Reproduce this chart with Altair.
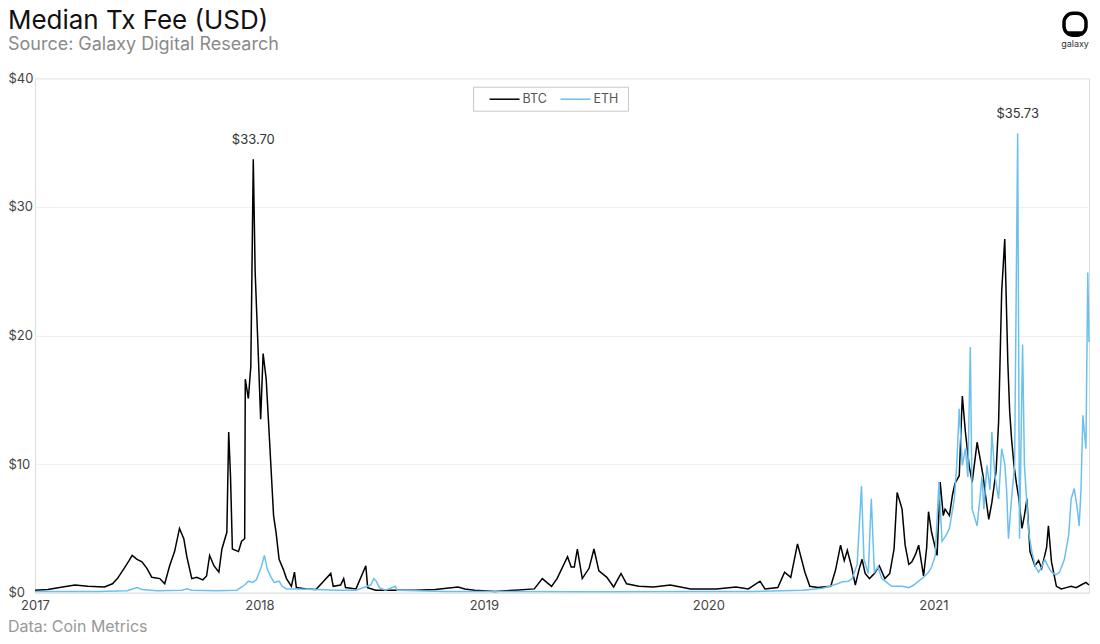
import altair as alt
import pandas as pd

# ---------------- data ----------------
btc_dates = [
    "2017-01-01", "2017-01-22", "2017-02-15", "2017-03-07", "2017-03-28", "2017-04-24", "2017-05-07",
    "2017-05-15", "2017-05-26", "2017-06-03", "2017-06-08", "2017-06-16", "2017-06-24", "2017-07-02",
    "2017-07-10", "2017-07-23", "2017-07-31", "2017-08-08", "2017-08-16", "2017-08-24", "2017-08-31",
    "2017-09-05", "2017-09-13", "2017-09-21", "2017-10-01", "2017-10-07", "2017-10-12", "2017-10-19",
    "2017-10-27", "2017-11-01", "2017-11-09", "2017-11-12", "2017-11-15", "2017-11-18", "2017-11-28",
    "2017-12-03", "2017-12-08", "2017-12-09", "2017-12-14", "2017-12-18", "2017-12-22", "2017-12-25",
    "2017-12-30", "2018-01-03", "2018-01-07", "2018-01-12", "2018-01-17", "2018-01-24", "2018-01-28",
    "2018-02-02", "2018-02-09", "2018-02-14", "2018-02-22", "2018-02-27", "2018-03-02", "2018-03-18",
    "2018-04-03", "2018-04-27", "2018-05-01", "2018-05-13", "2018-05-18", "2018-05-21", "2018-06-07",
    "2018-06-23", "2018-06-26", "2018-07-09", "2018-08-10", "2018-09-12", "2018-10-14", "2018-11-20",
    "2018-12-01", "2018-12-17", "2019-01-19", "2019-02-20", "2019-03-24", "2019-04-06", "2019-04-21",
    "2019-04-30", "2019-05-17", "2019-05-23", "2019-05-28", "2019-06-02", "2019-06-10", "2019-06-21",
    "2019-06-29", "2019-07-07", "2019-07-20", "2019-07-31", "2019-08-12", "2019-08-21", "2019-09-10",
    "2019-10-04", "2019-10-31", "2019-11-21", "2019-12-03", "2019-12-24", "2020-01-14", "2020-02-15",
    "2020-03-06", "2020-03-25", "2020-04-02", "2020-04-23", "2020-05-04", "2020-05-14", "2020-05-25",
    "2020-06-06", "2020-06-14", "2020-06-27", "2020-07-18", "2020-07-26", "2020-08-03", "2020-08-09",
    "2020-08-14", "2020-08-21", "2020-08-27", "2020-09-02", "2020-09-07", "2020-09-12", "2020-09-19",
    "2020-09-27", "2020-10-05", "2020-10-14", "2020-10-22", "2020-10-29", "2020-11-03", "2020-11-08",
    "2020-11-11", "2020-11-16", "2020-11-22", "2020-11-27", "2020-12-03", "2020-12-08", "2020-12-16",
    "2020-12-21", "2020-12-24", "2020-12-29", "2021-01-07", "2021-01-12", "2021-01-17", "2021-01-20",
    "2021-01-27", "2021-02-01", "2021-02-05", "2021-02-12", "2021-02-17", "2021-02-22", "2021-02-28",
    "2021-03-05", "2021-03-10", "2021-03-13", "2021-03-18", "2021-03-23", "2021-03-26", "2021-04-01",
    "2021-04-06", "2021-04-13", "2021-04-17", "2021-04-22", "2021-04-27", "2021-05-02", "2021-05-05",
    "2021-05-08", "2021-05-12", "2021-05-16", "2021-05-20", "2021-05-25", "2021-05-29", "2021-06-02",
    "2021-06-07", "2021-06-15", "2021-06-21", "2021-06-26", "2021-07-04", "2021-07-07", "2021-07-12",
    "2021-07-20", "2021-07-28", "2021-08-05", "2021-08-13", "2021-08-21", "2021-08-29", "2021-09-06",
    "2021-09-11",
]
btc_values = [
    0.2, 0.25, 0.45, 0.6, 0.5, 0.45, 0.7,
    1.1, 1.9, 2.5, 2.9, 2.6, 2.4, 1.9,
    1.2, 1.1, 0.7, 2.1, 3.2, 5.0, 4.2,
    2.8, 1.1, 1.2, 1.0, 1.3, 2.9, 2.1,
    1.6, 3.4, 4.7, 12.5, 9.0, 3.4, 3.2,
    4.0, 4.2, 16.6, 15.1, 17.6, 33.7, 25.0,
    18.7, 13.5, 18.6, 16.6, 12.2, 6.0, 4.7,
    2.6, 1.8, 1.1, 0.5, 1.6, 0.4, 0.3,
    0.25, 1.5, 0.5, 0.6, 1.1, 0.4, 0.3,
    2.1, 0.4, 0.2, 0.2, 0.2, 0.25, 0.45,
    0.3, 0.2, 0.1, 0.2, 0.3, 1.1, 0.5,
    1.1, 2.8, 2.0, 2.0, 3.4, 1.1, 1.9,
    3.4, 1.7, 1.2, 0.45, 1.5, 0.7, 0.5,
    0.45, 0.6, 0.4, 0.3, 0.3, 0.3, 0.45,
    0.3, 0.9, 0.3, 0.4, 1.6, 1.2, 3.8,
    1.6, 0.5, 0.4, 0.5, 1.8, 3.7, 2.5,
    3.3, 2.0, 0.6, 1.8, 2.6, 1.5, 1.1,
    1.5, 2.1, 1.1, 1.5, 3.4, 7.8, 7.0,
    6.5, 3.7, 2.2, 2.4, 3.0, 3.7, 1.3,
    3.5, 6.3, 4.7, 2.9, 8.6, 6.0, 6.5,
    6.0, 7.6, 8.5, 9.1, 15.3, 12.5, 9.9,
    8.6, 10.5, 11.7, 10.4, 9.0, 7.8, 5.7,
    7.0, 9.5, 13.3, 23.4, 27.5, 17.9, 14.1,
    12.0, 9.9, 8.5, 7.3, 5.0, 6.0, 7.3,
    3.2, 2.1, 2.5, 1.9, 3.5, 5.2, 2.4,
    0.5, 0.3, 0.4, 0.5, 0.4, 0.6, 0.8,
    0.6,
]

eth_dates = [
    "2017-01-01", "2017-04-13", "2017-05-31", "2017-06-16", "2017-06-24", "2017-07-19", "2017-08-28",
    "2017-09-05", "2017-09-13", "2017-10-23", "2017-11-25", "2017-12-08", "2017-12-14", "2017-12-21",
    "2017-12-27", "2018-01-04", "2018-01-09", "2018-01-14", "2018-01-20", "2018-01-25", "2018-02-02",
    "2018-02-07", "2018-02-14", "2018-03-02", "2018-04-03", "2018-05-05", "2018-06-07", "2018-07-01",
    "2018-07-06", "2018-07-10", "2018-07-15", "2018-07-25", "2018-08-10", "2018-08-13", "2018-09-12",
    "2018-10-30", "2019-01-19", "2019-06-29", "2019-12-08", "2020-03-14", "2020-05-01", "2020-06-02",
    "2020-07-05", "2020-07-16", "2020-07-29", "2020-08-06", "2020-08-16", "2020-08-22", "2020-08-30",
    "2020-09-06", "2020-09-10", "2020-09-17", "2020-09-22", "2020-09-27", "2020-10-03", "2020-10-09",
    "2020-10-17", "2020-10-25", "2020-11-11", "2020-11-22", "2020-11-30", "2020-12-08", "2020-12-16",
    "2020-12-24", "2020-12-29", "2021-01-04", "2021-01-10", "2021-01-15", "2021-01-22", "2021-01-27",
    "2021-02-04", "2021-02-08", "2021-02-12", "2021-02-17", "2021-02-22", "2021-02-26", "2021-03-02",
    "2021-03-05", "2021-03-13", "2021-03-18", "2021-03-21", "2021-03-24", "2021-03-29", "2021-04-03",
    "2021-04-06", "2021-04-11", "2021-04-17", "2021-04-22", "2021-04-27", "2021-04-30", "2021-05-03",
    "2021-05-08", "2021-05-13", "2021-05-18", "2021-05-21", "2021-05-26", "2021-05-29", "2021-06-05",
    "2021-06-10", "2021-06-16", "2021-06-21", "2021-06-26", "2021-07-01", "2021-07-07", "2021-07-12",
    "2021-07-19", "2021-07-25", "2021-08-02", "2021-08-09", "2021-08-13", "2021-08-18", "2021-08-23",
    "2021-08-26", "2021-08-29", "2021-09-01", "2021-09-06", "2021-09-09", "2021-09-11",
]
eth_values = [
    0.1, 0.1, 0.15, 0.4, 0.25, 0.15, 0.2,
    0.3, 0.2, 0.15, 0.2, 0.6, 0.9, 0.8,
    1.0, 2.0, 2.9, 1.8, 1.2, 0.8, 0.9,
    0.5, 0.3, 0.3, 0.25, 0.2, 0.2, 0.6,
    1.1, 0.9, 0.4, 0.2, 0.5, 0.2, 0.15,
    0.1, 0.1, 0.08, 0.1, 0.1, 0.15, 0.2,
    0.35, 0.5, 0.7, 0.85, 0.9, 1.1, 2.2,
    8.3, 2.6, 1.5, 7.3, 1.6, 2.0, 1.1,
    0.8, 0.5, 0.5, 0.4, 0.6, 0.9, 1.2,
    1.6, 2.0, 2.9, 8.6, 4.0, 4.5, 5.0,
    7.3, 10.0, 14.3, 9.9, 11.2, 9.0, 19.1,
    6.5, 5.2, 7.5, 9.1, 6.5, 9.9, 8.0,
    12.5, 9.1, 7.3, 11.2, 10.0, 8.0, 4.2,
    7.3, 9.9, 35.73, 4.2, 19.3, 9.9, 4.7,
    3.2, 2.0, 1.6, 2.0, 2.6, 2.0, 1.6,
    1.4, 1.6, 2.6, 4.5, 7.3, 8.1, 6.5,
    5.2, 8.0, 13.8, 11.2, 24.9, 19.5,
]

series_names = ["BTC", "ETH"]
series_colors = ["#000000", "#6cc0ef"]

peak_dates = ["2017-12-22", "2021-05-18"]
peak_values = [33.70, 35.73]
peak_labels = ["$33.70", "$35.73"]

y_ticks = [0, 10, 20, 30, 40]

title_text = "Median Tx Fee (USD)"
subtitle_text = "Source: Galaxy Digital Research"
note_text = "Data: Coin Metrics"
logo_text_str = "galaxy"

FONT = "Inter"

# ---------------- tables ----------------
df = pd.concat(
    [
        pd.DataFrame({"date": btc_dates, "fee": btc_values, "series": series_names[0]}),
        pd.DataFrame({"date": eth_dates, "fee": eth_values, "series": series_names[1]}),
    ],
    ignore_index=True,
)
ann = pd.DataFrame({"date": peak_dates, "fee": peak_values, "label": peak_labels})
one = pd.DataFrame({"k": [0]})

W, H = 1055, 515
LP = 27  # room for the y labels left of the plot

x_scale = alt.Scale(type="utc", nice=False)

lines = alt.Chart(df).mark_line(strokeWidth=1.5).encode(
    x=alt.X(
        "date:T",
        scale=x_scale,
        axis=alt.Axis(
            title=None,
            format="%Y",
            tickCount={"interval": "year", "step": 1},
            labelFlush=False,
            grid=False,
            ticks=False,
            domain=True,
            domainColor="#e3e3e3",
            labelFontSize=13,
            labelColor="#444",
            labelFont=FONT,
            labelPadding=7,
        ),
    ),
    y=alt.Y(
        "fee:Q",
        scale=alt.Scale(domain=[0, 40]),
        axis=alt.Axis(
            title=None,
            values=y_ticks,
            labelExpr="'$' + datum.value",
            labelAlign="left",
            labelPadding=LP,
            ticks=False,
            domain=False,
            gridColor="#efefef",
            labelFontSize=13,
            labelColor="#444",
            labelFont=FONT,
        ),
    ),
    color=alt.Color(
        "series:N",
        scale=alt.Scale(domain=series_names, range=series_colors),
        legend=None,
    ),
)

peaks = alt.Chart(ann).mark_text(
    dy=-19, fontSize=13, color="#333", font=FONT, baseline="middle"
).encode(
    x=alt.X("date:T"),
    y=alt.Y("fee:Q"),
    text="label:N",
)

# ---- hand-built legend box (top centre of the plot) ----
legend_box = alt.Chart(one).mark_rect(
    fill="white", stroke="#c8c8c8", strokeWidth=1
).encode(x=alt.value(439), x2=alt.value(594), y=alt.value(9), y2=alt.value(33))

legend_layers = []
for i, (name, col) in enumerate(zip(series_names, series_colors)):
    x0 = 455 + i * 71
    legend_layers.append(
        alt.Chart(one).mark_rule(strokeWidth=1.5, color=col).encode(
            x=alt.value(x0), x2=alt.value(x0 + 30), y=alt.value(21)
        )
    )
    legend_layers.append(
        alt.Chart(one).mark_text(
            align="left", baseline="middle", fontSize=12.5, color="#555", font=FONT
        ).encode(x=alt.value(x0 + 33), y=alt.value(21), text=alt.value(name))
    )

# ---- titles, note and logo as text / shapes ----
title_mark = alt.Chart(one).mark_text(
    align="left", baseline="top", fontSize=26, color="#111", font=FONT
).encode(x=alt.value(-LP), y=alt.value(-70), text=alt.value(title_text))

subtitle_mark = alt.Chart(one).mark_text(
    align="left", baseline="top", fontSize=18, color="#8a8a8a", font=FONT
).encode(x=alt.value(-LP), y=alt.value(-42), text=alt.value(subtitle_text))

source_note = alt.Chart(one).mark_text(
    align="left", baseline="middle", fontSize=16, color="#999", font=FONT
).encode(x=alt.value(-LP), y=alt.value(549), text=alt.value(note_text))

logo_box = alt.Chart(one).mark_rect(
    cornerRadius=9, filled=False, stroke="black", strokeWidth=3.5
).encode(x=alt.value(1030), x2=alt.value(1052), y=alt.value(-65), y2=alt.value(-43))

logo_base = alt.Chart(one).mark_rule(strokeWidth=4, color="black").encode(
    x=alt.value(1033), x2=alt.value(1049), y=alt.value(-45)
)

logo_text = alt.Chart(one).mark_text(
    align="center", baseline="middle", fontSize=9, color="#333", font=FONT
).encode(x=alt.value(1041), y=alt.value(-34), text=alt.value(logo_text_str))

chart = (
    alt.layer(
        lines, peaks, legend_box, *legend_layers,
        title_mark, subtitle_mark, source_note, logo_box, logo_base, logo_text,
    )
    .properties(
        width=W,
        height=H,
        padding={"left": 0, "top": 0, "right": 0, "bottom": 0},
    )
    .configure_view(stroke=None)
    .configure(background="white")
)

chart.save("out.html", embed_options={"renderer": "svg", "actions": False})
